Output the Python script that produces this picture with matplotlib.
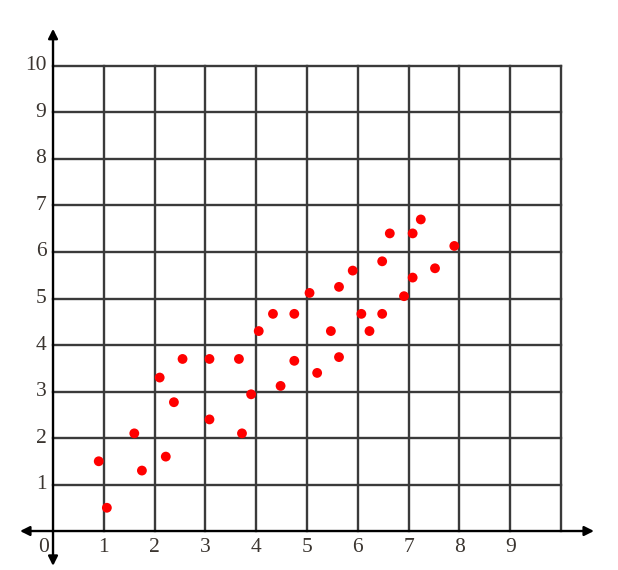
import matplotlib.pyplot as plt

# scatter data
xs = [0.9, 1.06, 1.6, 1.75, 2.1, 2.22, 2.38, 2.55, 3.08, 3.08, 3.66, 3.72, 3.9,
      4.05, 4.33, 4.75, 4.75, 4.48, 5.05, 5.2, 5.47, 5.63, 5.63, 6.07, 6.23,
      6.48, 6.91, 5.9, 6.48, 6.63, 7.08, 7.24, 7.9, 7.52, 7.08]
ys = [1.5, 0.5, 2.1, 1.3, 3.3, 1.6, 2.77, 3.7, 3.7, 2.4, 3.7, 2.1, 2.94,
      4.3, 4.67, 4.67, 3.66, 3.12, 5.12, 3.4, 4.3, 3.74, 5.25, 4.67, 4.3,
      4.67, 5.05, 5.6, 5.8, 6.4, 6.4, 6.7, 6.13, 5.65, 5.45]

x_labels = ['1', '2', '3', '4', '5', '6', '7', '8', '9']
y_labels = ['1', '2', '3', '4', '5', '6', '7', '8', '9', '10']

fig = plt.figure(figsize=(6.18, 5.70), dpi=100)
ax = fig.add_axes([20 / 618, 0.0072, 574 / 618, 0.9423])
ax.set_xlim(-0.65, 10.65)
ax.set_ylim(-0.75, 10.8)
ax.axis('off')

grid_col = '#3a3a3a'
for i in range(1, 11):
    ax.plot([i, i], [0, 10], color=grid_col, lw=1.7, zorder=1)
    ax.plot([0, 10], [i, i], color=grid_col, lw=1.7, zorder=1)

# axes with arrows
ax.annotate('', xy=(10.65, 0), xytext=(-0.65, 0),
            arrowprops=dict(arrowstyle='<|-|>', color='black', lw=1.7,
                            mutation_scale=14, shrinkA=0, shrinkB=0))
ax.annotate('', xy=(0, 10.8), xytext=(0, -0.75),
            arrowprops=dict(arrowstyle='<|-|>', color='black', lw=1.7,
                            mutation_scale=14, shrinkA=0, shrinkB=0))

font = dict(family='Liberation Serif', fontsize=15.5, color='#3b3530')
for i, lab in enumerate(y_labels):
    ax.text(-0.13, i + 1, lab, ha='right', va='center', **font)
for i, lab in enumerate(x_labels):
    ax.text(i + 1, -0.36, lab, ha='center', va='center', **font)
ax.text(-0.18, -0.36, '0', ha='center', va='center', **font)

ax.scatter(xs, ys, s=50, color='#ff0000', zorder=3, edgecolors='none')

fig.savefig('out.png', dpi=100)
